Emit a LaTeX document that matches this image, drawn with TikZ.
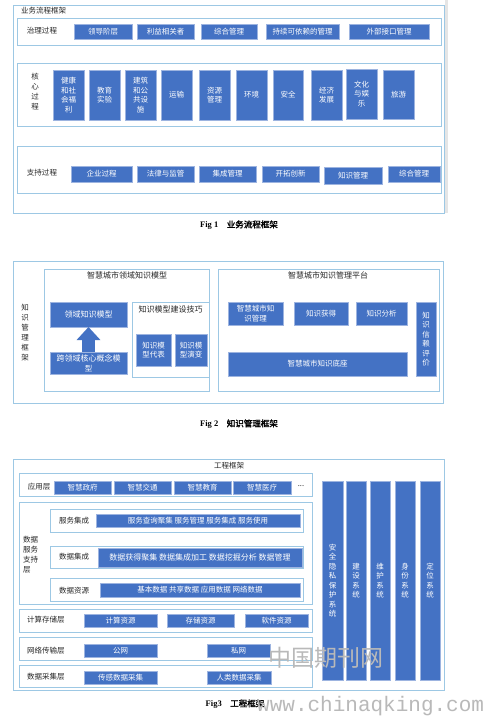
\documentclass[tikz,border=0pt]{standalone}
\usepackage{fontspec}
\setmainfont{Liberation Serif}
\newfontfamily\cjk[AutoFakeBold=2]{Noto Sans CJK SC}
\newfontfamily\wmono{Liberation Mono}
\usetikzlibrary{arrows.meta}
\definecolor{bblue}{HTML}{4472C4}
\definecolor{bbord}{HTML}{9DB4E0}
\definecolor{cbord}{HTML}{9DC8E4}
\tikzset{
  cont/.style={draw=cbord, line width=0.8pt, inner sep=0pt, outer sep=0pt},
  bluebox/.style={fill=bblue, draw=bbord, line width=0.5pt, text=white, inner sep=0pt, outer sep=0pt, align=center, font=\cjk\fontsize{7.5}{9.5}\selectfont},
  lab/.style={inner sep=0pt, text=black!85, align=center, font=\cjk\fontsize{7.5}{10}\selectfont},
  figcap/.style={inner sep=0pt, text=black, font=\fontsize{8.5}{10}\selectfont\bfseries},
  bigarrow/.style={draw=bblue, line width=13pt, -{Triangle[width=23pt,length=13pt]}},
  wm/.style={inner sep=0pt, text=gray!55}
}
\newcommand\bx[7]{\node[#1, minimum width={(#5-#3)*1pt}, minimum height={(#6-#4)*1pt}] (#2) at ({(#3+#5)/2},{(#4+#6)/2}) {#7};}
\begin{document}
\begin{tikzpicture}[x=1pt,y=-1pt]
\useasboundingbox[fill=white] (0,0) rectangle (491,717);
% ---------------- Fig 1 ----------------
\fill[gray!20] (445,0) rectangle (447.5,213);
\bx{cont}{f1}{13}{5}{444}{213}{}
\node[lab, anchor=west] (f1t) at (21,10.5) {业务流程框架};
\bx{cont}{gov}{17}{18}{441}{45}{}
\node[lab] (govl) at (42,31) {治理过程};
\bx{bluebox}{g1}{74}{24}{132}{39}{领导阶层}
\bx{bluebox}{g2}{137}{24}{194}{39}{利益相关者}
\bx{bluebox}{g3}{201}{24}{257}{39}{综合管理}
\bx{bluebox}{g4}{266}{24}{339}{39}{持续可依赖的管理}
\bx{bluebox}{g5}{349}{24}{429}{39}{外部接口管理}
\bx{cont}{core}{17}{63}{441}{126}{}
\node[lab] (corel) at (35,92) {核\\心\\过\\程};
\bx{bluebox}{c1}{53}{70}{84}{120}{健康\\和社\\会福\\利}
\bx{bluebox}{c2}{89}{70}{120}{120}{教育\\实验}
\bx{bluebox}{c3}{125}{70}{156}{120}{建筑\\和公\\共设\\施}
\bx{bluebox}{c4}{161}{70}{192}{120}{运输}
\bx{bluebox}{c5}{199}{70}{230}{120}{资源\\管理}
\bx{bluebox}{c6}{236}{70}{267}{120}{环境}
\bx{bluebox}{c7}{273}{70}{303}{120}{安全}
\bx{bluebox}{c8}{311}{70}{342}{120}{经济\\发展}
\bx{bluebox}{c9}{346}{69}{377}{119}{文化\\与娱\\乐}
\bx{bluebox}{c10}{383}{70}{414}{119}{旅游}
\bx{cont}{sup}{17}{146}{441}{193}{}
\node[lab] (supl) at (42,173) {支持过程};
\bx{bluebox}{s1}{71}{166}{132}{182}{企业过程}
\bx{bluebox}{s2}{137}{166}{194}{182}{法律与监管}
\bx{bluebox}{s3}{199}{166}{256}{182}{集成管理}
\bx{bluebox}{s4}{262}{166}{319}{182}{开拓创新}
\bx{bluebox}{s5}{324}{167}{382}{184}{知识管理}
\bx{bluebox}{s6}{388}{166}{440}{182}{综合管理}
\node[figcap] (cap1) at (239,225) {Fig 1\quad{\cjk 业务流程框架}};
% ---------------- Fig 2 ----------------
\bx{cont}{f2}{13}{261}{443}{403}{}
\node[lab] (f2l) at (25,333) {知\\识\\管\\理\\框\\架};
\bx{cont}{lm}{44}{269}{209}{391}{}
\node[lab, font=\cjk\fontsize{8}{10}\selectfont] (lmt) at (127,275) {智慧城市领域知识模型};
\bx{bluebox}{lk}{50}{302}{127}{327}{\fontsize{8}{9.5}\selectfont 领域知识模型}
\bx{bluebox}{cr}{50}{352}{127}{374}{\fontsize{8}{9.5}\selectfont 跨领域核心概念模\\型}
\draw[bigarrow] (cr.north) -- (lk.south);
\bx{cont}{tq}{132}{302}{209}{377}{}
\node[lab, font=\cjk\fontsize{8}{10}\selectfont] (tqt) at (170.5,309.5) {知识模型建设技巧};
\bx{bluebox}{rep}{136}{334}{171}{366}{\fontsize{7.5}{10}\selectfont 知识模\\型代表}
\bx{bluebox}{evo}{175}{334}{207}{366}{\fontsize{7.5}{10}\selectfont 知识模\\型演变}
\bx{cont}{kp}{218}{269}{439}{391}{}
\node[lab, font=\cjk\fontsize{8}{10}\selectfont] (kpt) at (328,275) {智慧城市知识管理平台};
\bx{bluebox}{k1}{228}{302}{283}{325}{智慧城市知\\识管理}
\bx{bluebox}{k2}{294}{302}{348}{325}{知识获得}
\bx{bluebox}{k3}{356}{302}{407}{325}{知识分析}
\bx{bluebox}{k4}{416}{302}{436}{376}{\fontsize{7.5}{10}\selectfont 知\\识\\信\\赖\\评\\价}
\bx{bluebox}{k5}{228}{352}{407}{376}{智慧城市知识底座}
\node[figcap] (cap2) at (239,424) {Fig 2\quad{\cjk 知识管理框架}};
% ---------------- Fig 3 ----------------
\bx{cont}{f3}{13}{459}{444}{690}{}
\node[lab] (f3t) at (229,465.5) {工程框架};
\bx{cont}{al}{19}{473}{312}{496}{}
\node[lab] (all) at (39,487) {应用层};
\bx{bluebox}{a1}{54}{481}{111}{494}{智慧政府}
\bx{bluebox}{a2}{114}{481}{171}{494}{智慧交通}
\bx{bluebox}{a3}{174}{481}{231}{494}{智慧教育}
\bx{bluebox}{a4}{233}{481}{291}{494}{智慧医疗}
\node[lab] (adots) at (301,486) {...};
\bx{cont}{ds}{19}{502}{312}{604}{}
\node[lab, anchor=west, align=left] (dsl) at (23,555) {数据\\服务\\支持\\层};
\bx{cont}{si}{50}{509}{303}{532}{}
\node[lab] (sil) at (74,521) {服务集成};
\bx{bluebox}{sib}{96}{514}{300}{527}{服务查询聚集 服务管理 服务集成 服务使用}
\bx{cont}{di}{50}{546}{303}{568}{}
\node[lab] (dil) at (74,557) {数据集成};
\bx{bluebox}{dib}{98}{548}{302}{567}{\fontsize{8}{9.5}\selectfont 数据获得聚集 数据集成加工 数据挖掘分析 数据管理}
\bx{cont}{dr}{50}{578}{303}{601}{}
\node[lab] (drl) at (74,591) {数据资源};
\bx{bluebox}{drb}{100}{583}{300}{597}{基本数据 共享数据 应用数据 网络数据}
\bx{cont}{cs}{19}{609}{312}{632}{}
\node[lab, anchor=west] (csl) at (27,620) {计算存储层};
\bx{bluebox}{cs1}{84}{614}{157}{627}{计算资源}
\bx{bluebox}{cs2}{167}{614}{234}{627}{存储资源}
\bx{bluebox}{cs3}{245}{614}{308}{627}{软件资源}
\bx{cont}{nt}{19}{637}{312}{660}{}
\node[lab, anchor=west] (ntl) at (27,651) {网络传输层};
\bx{bluebox}{nt1}{84}{644}{157}{657}{公网}
\bx{bluebox}{nt2}{207}{644}{270}{657}{私网}
\bx{cont}{dc}{19}{665}{312}{687}{}
\node[lab, anchor=west] (dcl) at (27,677) {数据采集层};
\bx{bluebox}{dc1}{84}{671}{157}{684}{传感数据采集}
\bx{bluebox}{dc2}{207}{671}{271}{684}{人类数据采集}
\bx{bluebox}{v1}{322}{481}{343}{680}{\fontsize{7.5}{10}\selectfont 安\\全\\隐\\私\\保\\护\\系\\统}
\bx{bluebox}{v2}{346}{481}{366}{680}{\fontsize{7.5}{10}\selectfont 建\\设\\系\\统}
\bx{bluebox}{v3}{370}{481}{390}{680}{\fontsize{7.5}{10}\selectfont 维\\护\\系\\统}
\bx{bluebox}{v4}{395}{481}{415}{680}{\fontsize{7.5}{10}\selectfont 身\\份\\系\\统}
\bx{bluebox}{v5}{420}{481}{440}{680}{\fontsize{7.5}{10}\selectfont 定\\位\\系\\统}
\node[figcap] (cap3) at (235,704) {Fig3\quad{\cjk 工程框架}};
% watermark
\node[wm, font=\cjk\fontsize{23}{24}\selectfont] (wm1) at (326,658) {中国期刊网};
\node[wm, anchor=west, font=\wmono\fontsize{21}{22}\selectfont] (wm2) at (257,706) {www.chinaqking.com};
\end{tikzpicture}
\end{document}
